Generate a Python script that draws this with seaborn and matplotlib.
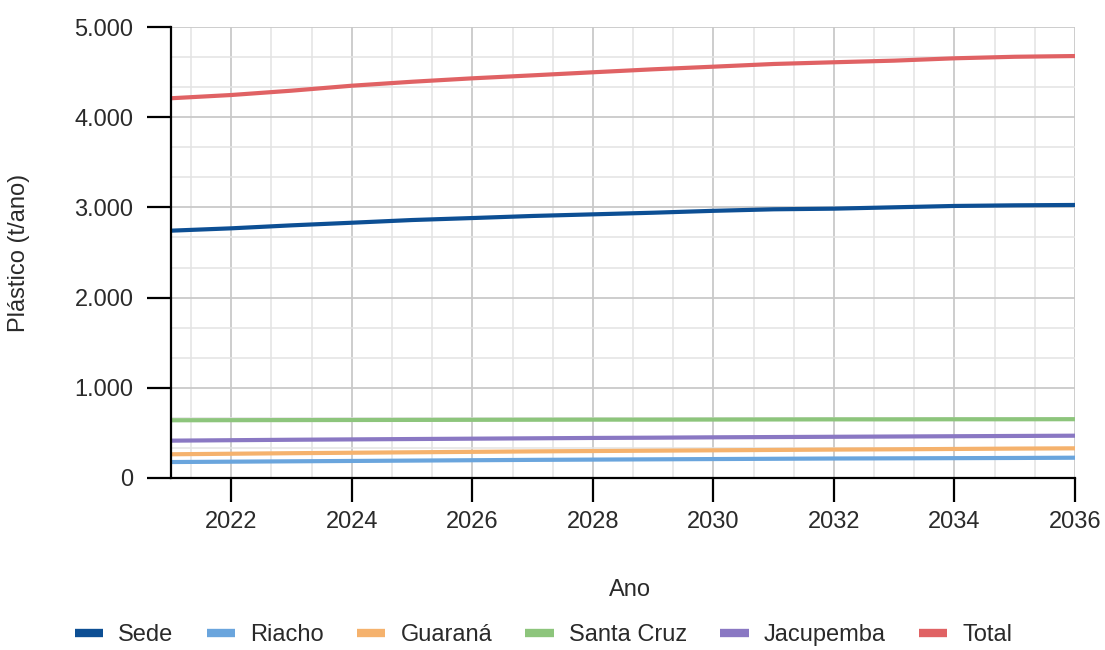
import numpy as np
import pandas as pd
import matplotlib
matplotlib.use("Agg")
import matplotlib.pyplot as plt
from matplotlib.ticker import MultipleLocator, FuncFormatter
from matplotlib.lines import Line2D
import seaborn as sns

# ── Data ────────────────────────────────────────────────────────────────────
years = list(range(2021, 2037))
sede = [2742, 2768, 2801, 2830, 2860, 2882, 2905, 2923, 2941, 2962, 2979, 2986, 3001, 3016, 3023, 3027]
riacho = [177, 181, 185, 189, 193, 197, 201, 204, 207, 210, 213, 216, 218, 220, 222, 225]
guarana = [263, 269, 275, 280, 285, 290, 295, 299, 303, 307, 311, 315, 318, 322, 326, 329]
santa_cruz = [640, 641, 642, 643, 644, 645, 646, 647, 647, 648, 649, 650, 650, 651, 651, 652]
jacupemba = [414, 419, 424, 428, 432, 436, 440, 444, 447, 451, 454, 457, 460, 463, 466, 469]
total = [4210, 4246, 4294, 4349, 4393, 4431, 4464, 4498, 4531, 4560, 4590, 4609, 4627, 4653, 4670, 4678]

series_names = ["Sede", "Riacho", "Guaraná", "Santa Cruz", "Jacupemba", "Total"]
series_colors = ["#0d4f94", "#6aa5dd", "#f5b26d", "#8dc57c", "#8a78c3", "#e06264"]

df = pd.DataFrame({
    "Ano": years * 6,
    "valor": sede + riacho + guarana + santa_cruz + jacupemba + total,
    "serie": sum([[n] * len(years) for n in series_names], []),
})

# ── Plot ─────────────────────────────────────────────────────────────────────
sns.set_style("white")
plt.rcParams["font.family"] = ["Liberation Sans", "DejaVu Sans"]
text_color = "#2a2a2a"
fs = 17

fig = plt.figure(figsize=(11.05, 6.5), dpi=100)
ax = fig.add_axes([171 / 1105, 1 - 478 / 650, 904 / 1105, 451 / 650])

sns.lineplot(data=df, x="Ano", y="valor", hue="serie", hue_order=series_names,
             palette=dict(zip(series_names, series_colors)), linewidth=3,
             legend=False, ax=ax, zorder=3)

ax.set_xlim(2021, 2036)
ax.set_ylim(0, 5000)
ax.set_xticks([2022, 2024, 2026, 2028, 2030, 2032, 2034, 2036])
ax.xaxis.set_minor_locator(MultipleLocator(2 / 3))
ax.yaxis.set_major_locator(MultipleLocator(1000))
ax.yaxis.set_minor_locator(MultipleLocator(1000 / 3))
ax.yaxis.set_major_formatter(FuncFormatter(lambda v, p: f"{int(v):,}".replace(",", ".")))

ax.grid(which="major", color="#c9c9c9", linewidth=1.3, zorder=0)
ax.grid(which="minor", color="#e3e3e3", linewidth=1.1, zorder=0)
ax.set_axisbelow(True)

for s in ["top", "right"]:
    ax.spines[s].set_visible(False)
for s in ["left", "bottom"]:
    ax.spines[s].set_color("black")
    ax.spines[s].set_linewidth(1.6)
    ax.spines[s].set_zorder(4)

ax.tick_params(axis="both", which="major", bottom=True, left=True, length=17, width=1.6,
               color="black", labelsize=fs, labelcolor=text_color)
ax.tick_params(axis="y", which="major", pad=10)
ax.tick_params(axis="x", which="major", pad=7)
ax.tick_params(which="minor", length=0)

ax.set_xlabel("Ano", fontsize=fs, color=text_color)
ax.set_ylabel("Plástico (t/ano)", fontsize=fs, color=text_color)
ax.xaxis.set_label_coords(0.508, -0.225)
ax.yaxis.set_label_coords(-0.156, 0.5)

handles = [Line2D([0], [0], color=c, linewidth=6, solid_capstyle="butt") for c in series_colors]
fig.legend(handles, series_names, loc="center", bbox_to_anchor=(0.492, 0.023),
           ncol=6, frameon=False, fontsize=fs, handlelength=1.2, handletextpad=0.65,
           columnspacing=1.4, labelcolor=text_color)

plt.savefig("out.png", dpi=100)
plt.close()
